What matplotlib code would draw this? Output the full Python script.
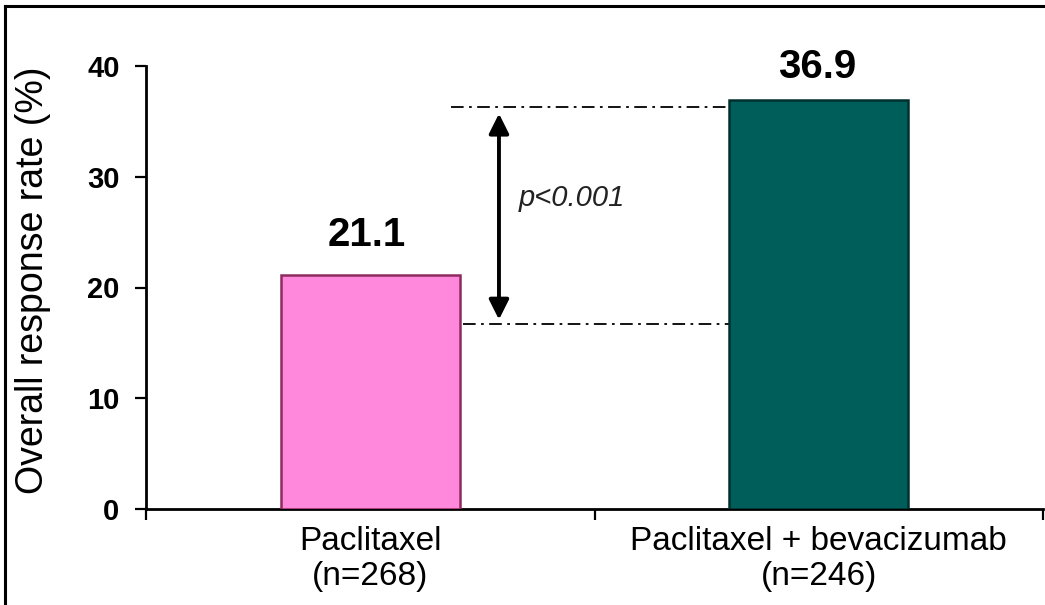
import matplotlib
matplotlib.use("Agg")
import matplotlib.pyplot as plt
from matplotlib.lines import Line2D

plt.rcParams['font.family'] = ['Liberation Sans', 'DejaVu Sans']

# Data
categories = ["Paclitaxel\n(n=268)", "Paclitaxel + bevacizumab\n(n=246)"]
values = [21.1, 36.9]
value_labels = ["21.1", "36.9"]
yticks = [0, 10, 20, 30, 40]
ref_low, ref_high = 16.7, 36.3
p_text = "p<0.001"

colors = ["#FF88DD", "#005E5A"]
edges = ["#8E2A5E", "#00302E"]

fig = plt.figure(figsize=(10.45, 6.05), dpi=100)
ax = fig.add_axes([146/1045, (605-509)/605, (1043-146)/1045, (509-66)/605])

x = list(range(len(values)))
ax.bar(x, values, width=0.4, color=colors, edgecolor=edges, linewidth=1.8, zorder=3)

ax.set_xlim(-0.5, 1.5)
ax.set_ylim(0, 40)
ax.set_yticks(yticks)
ax.set_yticklabels([str(t) for t in yticks], fontsize=21, fontweight='bold')
ax.set_xticks(x)
ax.set_xticklabels(categories, fontsize=24, linespacing=1.2)
ax.set_xticks([-0.5, 0.5, 1.5], minor=True)
ax.tick_params(axis='x', which='major', length=0, pad=12)
ax.tick_params(axis='x', which='minor', length=8, width=1.6, direction='out')
ax.tick_params(axis='y', length=8, width=1.6, direction='out', pad=11)

for s in ['top', 'right']:
    ax.spines[s].set_visible(False)
for s in ['left', 'bottom']:
    ax.spines[s].set_linewidth(2.0)
ax.spines['bottom'].set_bounds(-0.5, 1.5)

# value labels
ax.text(x[0] - 0.007, values[0] + 1.9, value_labels[0], ha='center', va='bottom',
        fontsize=29, fontweight='bold')
ax.text(x[1] - 0.004, values[1] + 1.3, value_labels[1], ha='center', va='bottom',
        fontsize=29, fontweight='bold')

# reference dash-dot lines
ax.plot([0.18, 0.8], [ref_high, ref_high], color='black', lw=1.3,
        linestyle=(0, (7, 3, 1.5, 3)), zorder=2)
ax.plot([0.207, 0.8], [ref_low, ref_low], color='black', lw=1.3,
        linestyle=(0, (7, 3, 1.5, 3)), zorder=2)

# double arrow
ax.annotate('', xy=(0.287, ref_high - 0.6), xytext=(0.287, ref_low + 0.4),
            arrowprops=dict(arrowstyle='<|-|>', color='black', lw=2.8,
                            mutation_scale=30, shrinkA=0, shrinkB=0))
ax.text(0.331, 28.1, p_text, ha='left', va='center', fontsize=21,
        style='italic', color='#222222')

# y label
fig.text(33/1045, (605-280)/605, "Overall response rate (%)", rotation=90,
         ha='center', va='center', fontsize=27)

# figure border (top and left)
fig.add_artist(Line2D([5/1045, 5/1045], [0, 1 - 6/605], transform=fig.transFigure,
                      color='black', lw=2.2))
fig.add_artist(Line2D([5/1045, 1], [1 - 6/605, 1 - 6/605], transform=fig.transFigure,
                      color='black', lw=2.2))

fig.savefig("out.png", dpi=100)
